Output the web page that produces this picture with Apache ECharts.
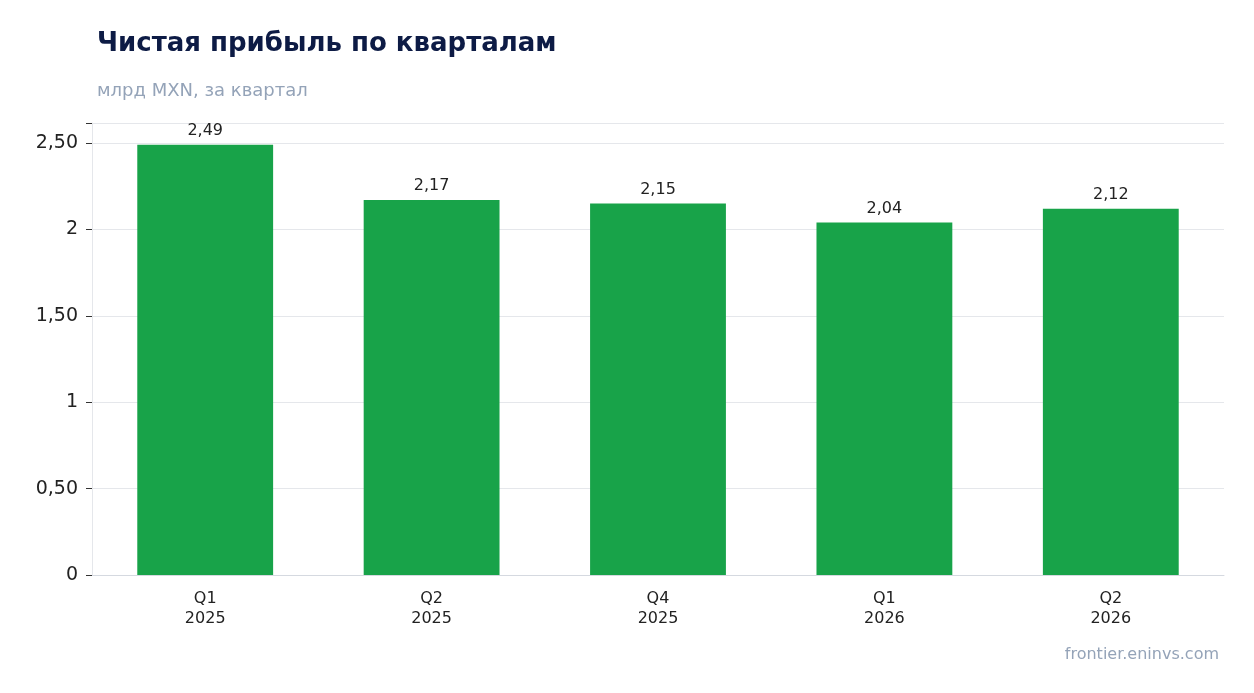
<!DOCTYPE html>
<html><head><meta charset="utf-8">
<script src="https://cdn.jsdelivr.net/npm/echarts@6/dist/echarts.min.js"></script>
<style>html,body{margin:0;padding:0;background:#fff}#c{width:1254px;height:693px}</style>
</head><body><div id="c"></div>
<script>
const categories = ["Q1\n2025","Q2\n2025","Q4\n2025","Q1\n2026","Q2\n2026"];
const values = [2.49, 2.17, 2.15, 2.04, 2.12];
const fmt = v => (Math.round(v*100)/100 === Math.round(v) ? String(Math.round(v)) : v.toFixed(2).replace('.', ','));
const chart = echarts.init(document.getElementById('c'));
chart.setOption({
  animation:false,
  title:[
    {text:"Чистая прибыль по кварталам", left:92, top:26, textStyle:{fontFamily:"DejaVu Sans", fontSize:26, fontWeight:"bold", color:"#0d1b45"}},
    {text:"млрд MXN, за квартал", left:92, top:77, textStyle:{fontFamily:"DejaVu Sans", fontSize:18, fontWeight:"normal", color:"#94a3b8"}},
    {text:"frontier.eninvs.com", right:30, top:642, textStyle:{fontFamily:"DejaVu Sans", fontSize:16, fontWeight:"normal", color:"#94a3b8"}}
  ],
  grid:{left:92, right:30, top:123, bottom:118},
  xAxis:{type:"category", data:categories,
    axisLine:{lineStyle:{color:"#d5d9e0"}}, axisTick:{alignWithLabel:true, lineStyle:{color:"#333"}},
    axisLabel:{fontFamily:"DejaVu Sans", fontSize:16, color:"#222", lineHeight:20, margin:14}},
  yAxis:{type:"value", min:0, max:2.616, interval:0.5,
    axisLine:{show:true, lineStyle:{color:"#e5e7eb"}}, axisTick:{show:true, length:6, lineStyle:{color:"#333"}},
    splitLine:{lineStyle:{color:"#e5e7eb"}},
    axisLabel:{fontFamily:"DejaVu Sans", fontSize:19, color:"#222", margin:14,
      formatter:v => v > 2.5 ? "" : fmt(v)}},
  series:[{type:"bar", data:values, barWidth:"60%", itemStyle:{color:"#18a349"},
    label:{show:true, position:"top", fontFamily:"DejaVu Sans", fontSize:16, color:"#222", distance:6, formatter:p=>fmt(p.value)}}]
});
</script></body></html>
